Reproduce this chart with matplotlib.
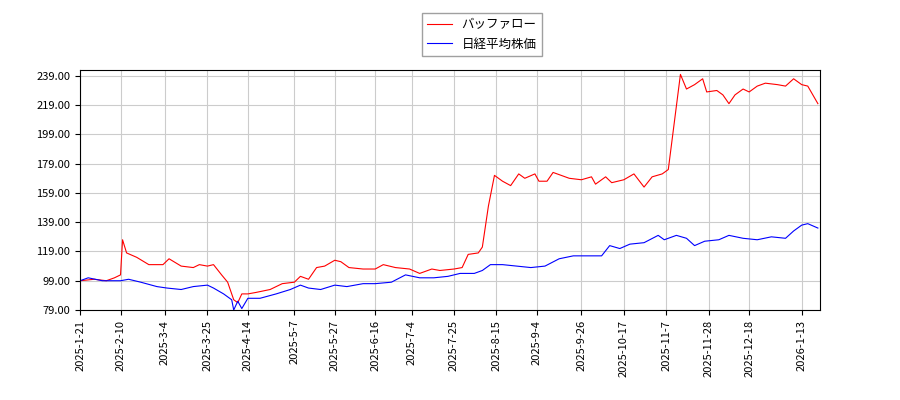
import matplotlib
matplotlib.use("Agg")
import matplotlib.pyplot as plt
import pandas as pd

plt.rcParams['font.family'] = ['Noto Sans CJK JP', 'DejaVu Sans']

red_dates = ["2025-01-21","2025-01-28","2025-02-03","2025-02-07","2025-02-10","2025-02-11","2025-02-13","2025-02-18","2025-02-24","2025-03-03","2025-03-06","2025-03-12","2025-03-18","2025-03-21","2025-03-25","2025-03-28","2025-04-01","2025-04-04","2025-04-07","2025-04-09","2025-04-11","2025-04-14","2025-04-18","2025-04-25","2025-05-01","2025-05-07","2025-05-10","2025-05-14","2025-05-18","2025-05-22","2025-05-27","2025-05-30","2025-06-03","2025-06-10","2025-06-16","2025-06-20","2025-06-26","2025-07-03","2025-07-08","2025-07-14","2025-07-18","2025-07-25","2025-07-29","2025-08-01","2025-08-06","2025-08-08","2025-08-11","2025-08-14","2025-08-18","2025-08-22","2025-08-26","2025-08-29","2025-09-03","2025-09-05","2025-09-09","2025-09-12","2025-09-16","2025-09-20","2025-09-26","2025-10-01","2025-10-03","2025-10-08","2025-10-11","2025-10-17","2025-10-22","2025-10-27","2025-10-31","2025-11-05","2025-11-08","2025-11-14","2025-11-17","2025-11-21","2025-11-25","2025-11-27","2025-12-02","2025-12-05","2025-12-08","2025-12-11","2025-12-15","2025-12-18","2025-12-22","2025-12-26","2026-01-01","2026-01-05","2026-01-09","2026-01-13","2026-01-16","2026-01-21"]
red_vals = [99,100,99,101,103,127,118,115,110,110,114,109,108,110,109,110,103,98,86,84,90,90,91,93,97,98,102,100,108,109,113,112,108,107,107,110,108,107,104,107,106,107,108,117,118,122,150,171,167,164,172,169,172,167,167,173,171,169,168,170,165,170,166,168,172,163,170,172,175,240,230,233,237,228,229,226,220,226,230,228,232,234,233,232,237,233,232,220]

blue_dates = ["2025-01-21","2025-01-25","2025-02-01","2025-02-10","2025-02-14","2025-02-20","2025-02-28","2025-03-05","2025-03-12","2025-03-18","2025-03-25","2025-03-28","2025-04-02","2025-04-06","2025-04-07","2025-04-09","2025-04-11","2025-04-14","2025-04-20","2025-04-28","2025-05-05","2025-05-10","2025-05-14","2025-05-20","2025-05-27","2025-06-02","2025-06-10","2025-06-16","2025-06-24","2025-07-01","2025-07-08","2025-07-15","2025-07-22","2025-07-28","2025-08-04","2025-08-08","2025-08-12","2025-08-18","2025-08-25","2025-09-01","2025-09-08","2025-09-15","2025-09-22","2025-10-01","2025-10-06","2025-10-10","2025-10-15","2025-10-20","2025-10-27","2025-11-03","2025-11-06","2025-11-12","2025-11-17","2025-11-21","2025-11-26","2025-12-03","2025-12-08","2025-12-15","2025-12-22","2025-12-29","2026-01-05","2026-01-09","2026-01-13","2026-01-16","2026-01-21"]
blue_vals = [99,101,99,99,100,98,95,94,93,95,96,94,90,86,79,85,80,87,87,90,93,96,94,93,96,95,97,97,98,103,101,101,102,104,104,106,110,110,109,108,109,114,116,116,116,123,121,124,125,130,127,130,128,123,126,127,130,128,127,129,128,133,137,138,135]

tick_dates = ["2025-01-21","2025-02-10","2025-03-04","2025-03-25","2025-04-14","2025-05-07","2025-05-27","2025-06-16","2025-07-04","2025-07-25","2025-08-15","2025-09-04","2025-09-26","2025-10-17","2025-11-07","2025-11-28","2025-12-18","2026-01-13"]
yticks = [79,99,119,139,159,179,199,219,239]

fig = plt.figure(figsize=(9,4), dpi=100)
ax = fig.add_axes([0.089,0.225,0.822,0.6])
ax.plot(pd.to_datetime(red_dates), red_vals, color='red', lw=0.8, label='バッファロー')
ax.plot(pd.to_datetime(blue_dates), blue_vals, color='blue', lw=0.8, label='日経平均株価')
td = pd.to_datetime(tick_dates)
ax.set_xticks(td)
ax.set_xticklabels([f"{d.year}-{d.month}-{d.day}" for d in td], rotation=90, fontsize=8)
ax.set_yticks(yticks)
ax.set_yticklabels([f"{v:.2f}" for v in yticks], fontsize=8)
ax.set_ylim(79,243)
ax.set_xlim(pd.Timestamp("2025-01-21"), pd.Timestamp("2026-01-22"))
ax.grid(True, color='#cccccc', lw=0.8)
fig.legend(loc='upper center', bbox_to_anchor=(0.535,0.982), fontsize=9, fancybox=False, edgecolor='#888888')
fig.savefig("out.png")
